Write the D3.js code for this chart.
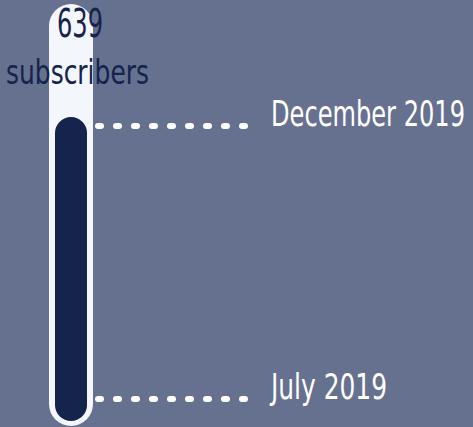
<!DOCTYPE html>
<html lang="en">

<head>
  <meta charset="UTF-8">
  <title>Subscribers</title>
  <script src="https://d3js.org/d3.v7.min.js"></script>
  <style>
    html, body {
      margin: 0;
      padding: 0;
      background-color: #66718f;
      overflow: hidden;
    }
    text {
      font-family: "Liberation Sans Narrow", "DejaVu Sans Condensed", Roboto, sans-serif;
    }
  </style>
</head>

<body>
  <script>
    // data
    var milestoneLabels = ['July 2019', 'December 2019'];
    var milestoneDates = [new Date(2019, 6, 1), new Date(2019, 11, 1)];
    var subscriberCount = [639];
    var countLabel = ['subscribers'];

    var width = 473;
    var height = 427;

    var svg = d3.select('body')
      .append('svg')
      .attr('width', width)
      .attr('height', height);

    // time runs bottom -> top
    var yScale = d3.scaleTime()
      .domain(milestoneDates)
      .range([399, 126]);

    var tube = { x: 49, width: 44, top: 4, bottom: 426 };
    var fill = { x: 55, width: 32 };

    // outer tube
    svg.append('rect')
      .attr('x', tube.x)
      .attr('y', tube.top)
      .attr('width', tube.width)
      .attr('height', tube.bottom - tube.top)
      .attr('rx', tube.width / 2)
      .attr('fill', '#f3f6fb');

    // the filled part of the tube
    var yStart = yScale(milestoneDates[0]);
    var yEnd = yScale(milestoneDates[milestoneDates.length - 1]);
    svg.append('rect')
      .attr('x', fill.x)
      .attr('y', yEnd - 9)
      .attr('width', fill.width)
      .attr('height', (yStart + 22) - (yEnd - 9))
      .attr('rx', fill.width / 2)
      .attr('fill', '#14244c');

    // dotted leaders + labels
    var marks = svg.selectAll('g.mark')
      .data(milestoneDates)
      .enter()
      .append('g')
      .attr('class', 'mark')
      .attr('transform', function (d) {
        return 'translate(0,' + yScale(d) + ')';
      });

    marks.append('line')
      .attr('x1', 98)
      .attr('x2', 245)
      .attr('stroke', '#ffffff')
      .attr('stroke-width', 6)
      .attr('stroke-linecap', 'round')
      .attr('stroke-dasharray', '3 15');

    // narrow, tall lettering: small font stretched vertically
    var labelWidths = [116, 194];
    marks.append('text')
      .attr('transform', 'translate(271,0) scale(1,1.29)')
      .attr('fill', '#ffffff')
      .attr('font-size', '28px')
      .attr('textLength', function (d, i) { return labelWidths[i]; })
      .attr('lengthAdjust', 'spacingAndGlyphs')
      .text(function (d, i) { return milestoneLabels[i]; });

    // count on top of the tube
    svg.append('text')
      .attr('transform', 'translate(80,37) scale(1,1.33)')
      .attr('text-anchor', 'middle')
      .attr('fill', '#14244c')
      .attr('font-size', '30px')
      .attr('textLength', 46)
      .attr('lengthAdjust', 'spacingAndGlyphs')
      .text(d3.format('d')(subscriberCount[0]));

    svg.append('text')
      .attr('transform', 'translate(77.5,84) scale(1,1.32)')
      .attr('text-anchor', 'middle')
      .attr('fill', '#14244c')
      .attr('font-size', '25px')
      .attr('textLength', 143)
      .attr('lengthAdjust', 'spacingAndGlyphs')
      .text(countLabel[0]);
  </script>
</body>

</html>
